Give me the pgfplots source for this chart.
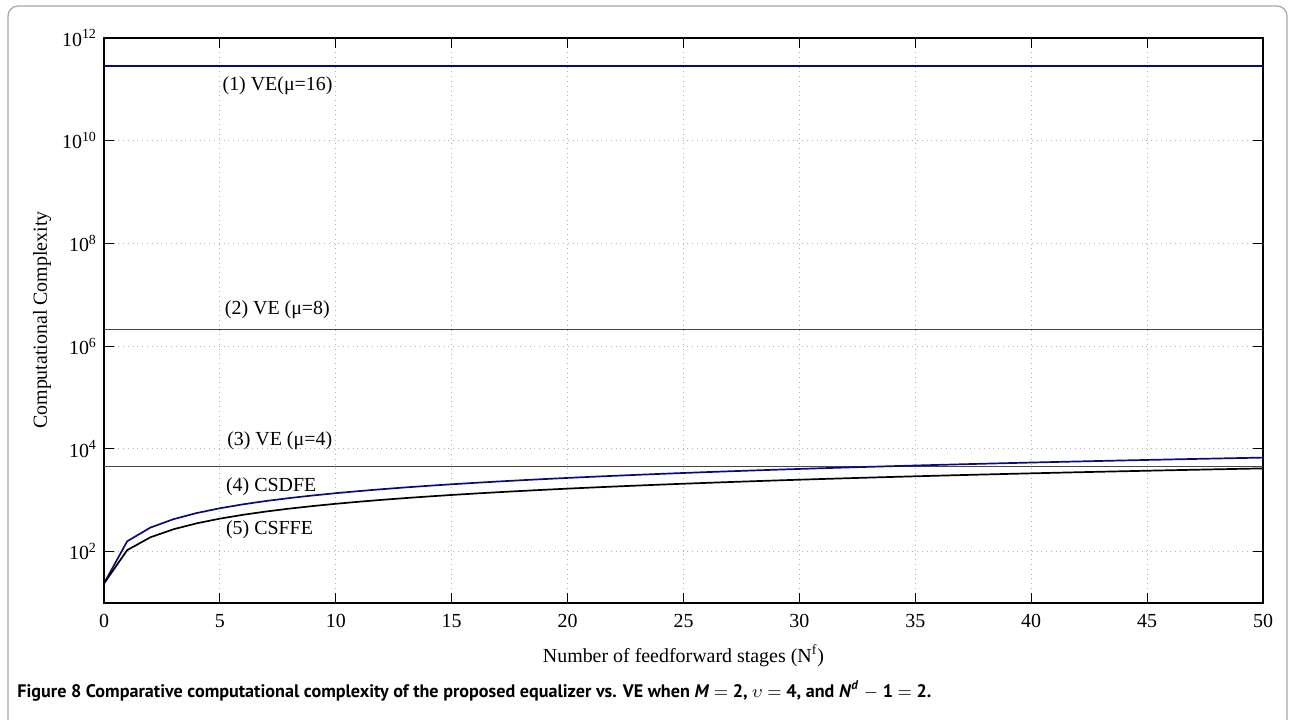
\documentclass[border=0pt]{standalone}
\usepackage{pgfplots}
\pgfplotsset{compat=1.18}
\usepackage{fontspec}
\setmainfont{Liberation Serif}
\newfontfamily\capfont{PT Sans}
\definecolor{navyline}{RGB}{10,10,120}
\definecolor{grayline}{RGB}{70,70,70}
\begin{document}
\begin{tikzpicture}
\useasboundingbox (0,0) rectangle (647bp,360bp);
\draw[gray!70, line width=0.6bp, rounded corners=5bp] (4bp,-1bp) -- (4bp,357bp) -- (643.5bp,357bp) -- (643.5bp,-1bp);
\begin{axis}[
  at={(52bp,58.5bp)}, anchor=south west,
  scale only axis, width=579.5bp, height=282.5bp,
  ymode=log, xmin=0, xmax=50, ymin=10, ymax=1e12,
  xtick={0,5,...,50},
  xticklabels={0,5,10,15,20,25,30,35,40,45,50},
  ytick={1e2,1e4,1e6,1e8,1e10,1e12},
  yticklabels={10\textsuperscript{2},10\textsuperscript{4},10\textsuperscript{6},10\textsuperscript{8},10\textsuperscript{10},10\textsuperscript{12}},
  yminorticks=false, xminorticks=false,
  grid=major,
  major grid style={dotted, gray!60, line width=0.45bp},
  tick style={black, line width=0.5bp},
  major tick length=5bp,
  tick align=inside,
  axis line style={line width=0.7bp},
  ticklabel style={font=\fontsize{10}{12}\selectfont},
  xticklabel style={yshift=-2bp},
  xlabel={Number of feedforward stages (N\textsuperscript{f})},
  xlabel style={font=\fontsize{10}{12}\selectfont, yshift=-2bp},
  clip=false,
]
\addplot[navyline, line width=0.9bp] coordinates {(0,2.8e11) (50,2.8e11)};
\addplot[grayline, line width=0.7bp] coordinates {(0,2.1e6) (50,2.1e6)};
\addplot[grayline, line width=0.7bp] coordinates {(0,4600) (50,4600)};
\addplot[navyline, line width=0.85bp] coordinates {
(0,24) (1,159) (2,294) (3,429) (4,564) (5,699) (6,834) (7,969) (8,1104) (9,1239)
(10,1374) (11,1509) (12,1644) (13,1779) (14,1914) (15,2049) (16,2184) (17,2319) (18,2454) (19,2589)
(20,2724) (21,2859) (22,2994) (23,3129) (24,3264) (25,3399) (26,3534) (27,3669) (28,3804) (29,3939)
(30,4074) (31,4209) (32,4344) (33,4479) (34,4614) (35,4749) (36,4884) (37,5019) (38,5154) (39,5289)
(40,5424) (41,5559) (42,5694) (43,5829) (44,5964) (45,6099) (46,6234) (47,6369) (48,6504) (49,6639)
(50,6774)};
\addplot[black, line width=0.85bp] coordinates {
(0,24) (1,107) (2,190) (3,273) (4,356) (5,439) (6,522) (7,605) (8,688) (9,771)
(10,854) (11,937) (12,1020) (13,1103) (14,1186) (15,1269) (16,1352) (17,1435) (18,1518) (19,1601)
(20,1684) (21,1767) (22,1850) (23,1933) (24,2016) (25,2099) (26,2182) (27,2265) (28,2348) (29,2431)
(30,2514) (31,2597) (32,2680) (33,2763) (34,2846) (35,2929) (36,3012) (37,3095) (38,3178) (39,3261)
(40,3344) (41,3427) (42,3510) (43,3593) (44,3676) (45,3759) (46,3842) (47,3925) (48,4008) (49,4091)
(50,4174)};
\node[anchor=west, inner sep=0, font=\fontsize{10}{12}\selectfont] at (axis cs:5.1,1.2e11) {(1) VE(μ=16)};
\node[anchor=west, inner sep=0, font=\fontsize{10}{12}\selectfont] at (axis cs:5.2,5.1e6) {(2) VE (μ=8)};
\node[anchor=west, inner sep=0, font=\fontsize{10}{12}\selectfont] at (axis cs:5.3,1.45e4) {(3) VE (μ=4)};
\node[anchor=west, inner sep=0, font=\fontsize{10}{12}\selectfont] at (axis cs:5.25,1840) {(4) CSDFE};
\node[anchor=west, inner sep=0, font=\fontsize{10}{12}\selectfont] at (axis cs:5.25,268) {(5) CSFFE};
\end{axis}
\node[rotate=90, font=\fontsize{10}{12}\selectfont] at (21bp,200bp) {Computational Complexity};
\node[anchor=base west, inner sep=0, font=\capfont\bfseries\fontsize{9.1}{11}\selectfont] at (8.5bp,11.2bp) {Figure 8 Comparative computational complexity of the proposed equalizer vs. VE when \textit{M}~$=$~2, $\upsilon$~$=$~4, and \textit{N}\textsuperscript{\textit{d}}~$-$~1~$=$~2.};
\end{tikzpicture}
\end{document}
